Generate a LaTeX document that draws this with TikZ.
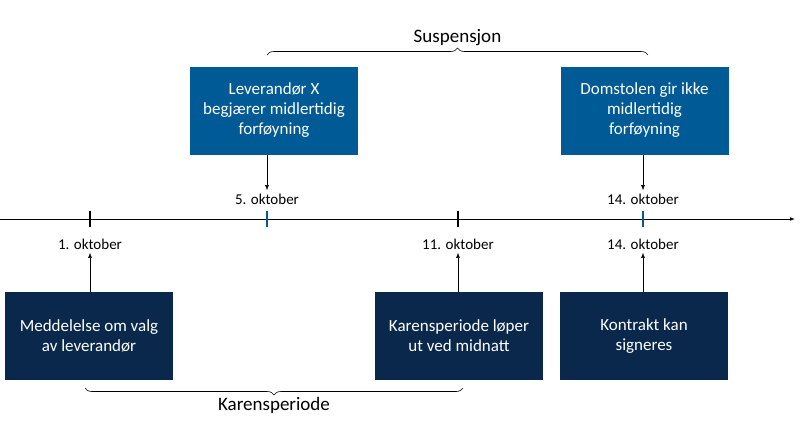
\documentclass[tikz,border=0pt]{standalone}
\usepackage{fontspec}
\setmainfont{Carlito}
\usetikzlibrary{arrows.meta, positioning, decorations.pathreplacing}
\definecolor{topblue}{RGB}{0,90,150}
\definecolor{navy}{RGB}{10,40,75}
\tikzset{
  event/.style={rectangle, minimum width=168pt, minimum height=88pt, align=center, text=white, font=\fontsize{17}{20}\selectfont},
  date/.style={font=\fontsize{15}{18}\selectfont},
  tick/.style={line width=1.6pt},
  brace/.style={decorate, decoration={brace, amplitude=7pt}, line width=0.6pt},
}
\begin{document}
\begin{tikzpicture}[x=1pt, y=-1pt, >={Latex[length=5pt]}]
    \useasboundingbox (0,0) rectangle (800,445);

    % time axis
    \coordinate (start) at (0,219);
    \coordinate (end) at (795,219);
    \draw[->, line width=0.8pt] (start) -- (end);

    \draw[tick] (90,211) -- (90,227);
    \draw[tick, topblue] (267,211) -- (267,227);
    \draw[tick] (458,211) -- (458,227);
    \draw[tick, topblue] (643,211) -- (643,227);

    % upper events
    \node [event, fill=topblue] (request) at (274,110.5) {Leverandør X\\begjærer midlertidig\\forføyning};
    \node [event, fill=topblue] (court) at (644.5,110.5) {Domstolen gir ikke\\midlertidig\\forføyning};
    \node [date] (oct5) at (267,199) {5. oktober};
    \node [date] (oct14a) at (643,199) {14. oktober};
    \draw[->] (request.south -| oct5) -- (oct5.north);
    \draw[->] (court.south -| oct14a) -- (oct14a.north);

    % lower events
    \node [event, fill=navy] (notice) at (89,336) {Meddelelse om valg\\av leverandør};
    \node [event, fill=navy] (midnight) at (459,336) {Karensperiode løper\\ut ved midnatt};
    \node [event, fill=navy] (contract) at (644,336) {Kontrakt kan\\signeres};
    \node [date] (oct1) at (90,244) {1. oktober};
    \node [date] (oct11) at (458,244) {11. oktober};
    \node [date] (oct14b) at (643,244) {14. oktober};
    \draw[->] (notice.north -| oct1) -- (oct1.south);
    \draw[->] (midnight.north -| oct11) -- (oct11.south);
    \draw[->] (contract.north -| oct14b) -- (oct14b.south);

    % periods
    \draw[brace] (267,55) -- node[above=6pt, font=\fontsize{19}{22}\selectfont] (susp) {Suspensjon} (648,55);
    \draw[brace] (463,388) -- node[below=6pt, font=\fontsize{19}{22}\selectfont] (karens) {Karensperiode} (85,388);
\end{tikzpicture}
\end{document}
